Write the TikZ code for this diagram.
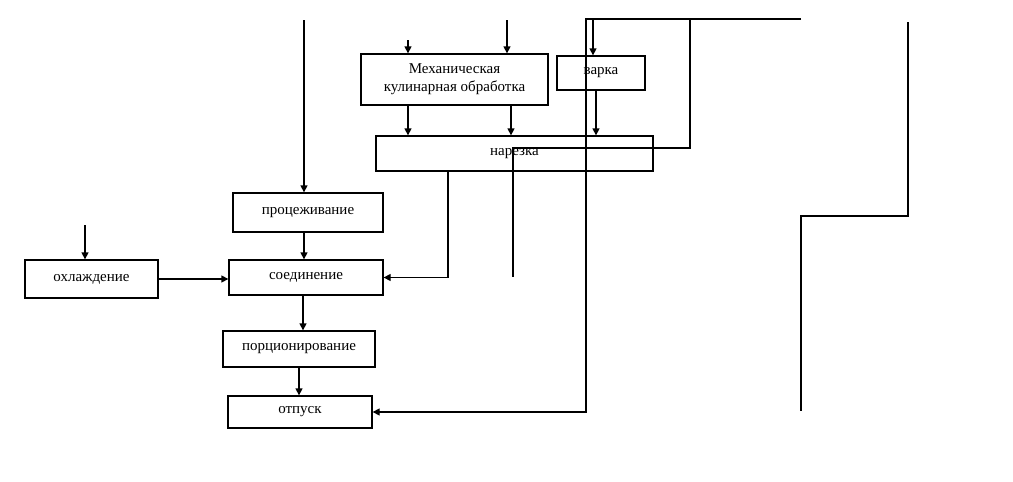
\documentclass[tikz,border=0pt]{standalone}
\usepackage{fontspec}
\setmainfont{Liberation Serif}
\usetikzlibrary{arrows.meta,positioning,calc}

\begin{document}
\begin{tikzpicture}[x=1pt,y=-1pt,
stage/.style={draw,line width=1.3pt,inner sep=0pt,align=center,font=\fontsize{15}{18}\selectfont},
flow/.style={line width=1.3pt,-{Triangle[length=7pt,width=7pt]}},
wire/.style={line width=1.3pt}]
\useasboundingbox (0,0) rectangle (1013,482);
% stages
\node[stage,minimum width=187pt,minimum height=51pt](mech) at (454.5,79.5){Механическая\\кулинарная обработка};
\node[stage,minimum width=88pt,minimum height=34pt](varka) at (601,73){варка};
\node[stage,minimum width=277pt,minimum height=35pt](narezka) at (514.5,153.5){нарезка};
\node[stage,minimum width=150pt,minimum height=39pt](proc) at (308,212.5){процеживание};
\node[stage,minimum width=133pt,minimum height=38pt](ohl) at (91.5,279){охлаждение};
\node[stage,minimum width=154pt,minimum height=35pt](soed) at (306,277.5){соединение};
\node[stage,minimum width=152pt,minimum height=36pt](porc) at (299,349){порционирование};
\node[stage,minimum width=144pt,minimum height=32pt](otpusk) at (300,412){отпуск};
% free ends
\coordinate (inProc) at (304,20);
\coordinate (inMechA) at (408,40);
\coordinate (inMechB) at (507,20);
\coordinate (inOhl) at (85,225);
\coordinate (topL) at (586,19);
\coordinate (topR) at (801,19);
\coordinate (cutR) at (690,148);
\coordinate (cutL) at (513,277);
\coordinate (rA) at (908,22);
\coordinate (rB) at (801,216);
\coordinate (rC) at (801,411);
% connectors
\draw[flow](inProc)--(inProc|-proc.north);
\draw[flow](inMechA)--(inMechA|-mech.north);\draw[flow](inMechB)--(inMechB|-mech.north);
\draw[flow]([xshift=-46.5pt]mech.south)--([xshift=-46.5pt]mech.south|-narezka.north);
\draw[flow]([xshift=56.5pt]mech.south)--([xshift=56.5pt]mech.south|-narezka.north);
\draw[flow]([xshift=-5pt]varka.south)--([xshift=-5pt]varka.south|-narezka.north);
\draw[flow]([xshift=-8pt]varka.north|-topL)--([xshift=-8pt]varka.north);
\draw[flow](topR)--(topL)|-(otpusk.east);
\draw[wire](cutR|-topL)--(cutR)-|(cutL);
\draw[flow]([xshift=-66.5pt]narezka.south)|-(soed.east);
\draw[wire](rA)|-(rB)--(rC);
\draw[flow](inOhl)--(inOhl|-ohl.north);
\draw[flow](ohl.east)--(ohl.east-|soed.west);
\draw[flow]([xshift=-4pt]proc.south)--([xshift=-4pt]proc.south|-soed.north);
\draw[flow]([xshift=-3pt]soed.south)--([xshift=-3pt]soed.south|-porc.north);
\draw[flow](porc.south)--(porc.south|-otpusk.north);
\end{tikzpicture}
\end{document}
